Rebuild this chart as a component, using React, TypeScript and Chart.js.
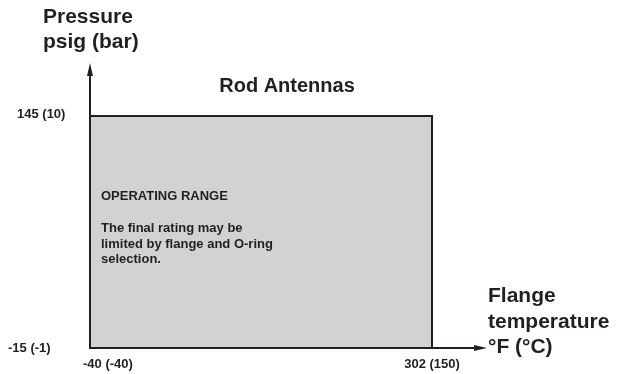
import React, { useEffect, useRef } from "react";
import { Chart, registerables } from "chart.js";

Chart.register(...registerables);

// Operating range corners (temperature °F, pressure psig)
const rangeTemps = [-40, -40, 302, 302];
const rangePressures = [-15, 145, 145, -15];

const xTickValues = [-40, 302];
const xTickLabels = ["-40 (-40)", "302 (150)"];
const yTickValues = [-15, 145];
const yTickLabels = ["-15 (-1)", "145 (10)"];

const titleText = "Rod Antennas";
const yAxisTitle = ["Pressure", "psig (bar)"];
const xAxisTitle = ["Flange", "temperature", "°F (°C)"];
const noteLines = [
  "OPERATING RANGE",
  "",
  "The final rating may be",
  "limited by flange and O-ring",
  "selection.",
];

const INK = "#231f20";
const FONT = "'Liberation Sans', Arial, sans-serif";

const decorPlugin = {
  id: "decor",
  afterDatasetsDraw(chart: any) {
    const { ctx, chartArea, scales } = chart;
    const xs = scales.x;
    const ys = scales.y;
    const x0 = xs.getPixelForValue(-40);
    const y0 = ys.getPixelForValue(-15);
    ctx.save();
    ctx.strokeStyle = INK;
    ctx.fillStyle = INK;
    ctx.lineWidth = 2;
    // y axis
    ctx.beginPath();
    ctx.moveTo(x0, y0 + 1);
    ctx.lineTo(x0, chartArea.top + 10);
    ctx.stroke();
    ctx.beginPath();
    ctx.moveTo(x0, chartArea.top);
    ctx.lineTo(x0 - 3, chartArea.top + 13);
    ctx.lineTo(x0 + 3, chartArea.top + 13);
    ctx.closePath();
    ctx.fill();
    // x axis
    ctx.beginPath();
    ctx.moveTo(x0 - 1, y0);
    ctx.lineTo(chartArea.right - 10, y0);
    ctx.stroke();
    ctx.beginPath();
    ctx.moveTo(chartArea.right, y0);
    ctx.lineTo(chartArea.right - 13, y0 - 3);
    ctx.lineTo(chartArea.right - 13, y0 + 3);
    ctx.closePath();
    ctx.fill();

    // tick labels
    ctx.font = `bold 13px ${FONT}`;
    ctx.textBaseline = "alphabetic";
    xTickValues.forEach((v, i) => {
      const px = xs.getPixelForValue(v);
      if (i === 0) {
        ctx.textAlign = "left";
        ctx.fillText(xTickLabels[i], px - 7, y0 + 20);
      } else {
        ctx.textAlign = "center";
        ctx.fillText(xTickLabels[i], px, y0 + 20);
      }
    });
    yTickValues.forEach((v, i) => {
      const py = ys.getPixelForValue(v);
      ctx.textAlign = "left";
      const lx = i === 0 ? 8 : 17;
      const dy = i === 0 ? 4 : 2;
      ctx.fillText(yTickLabels[i], lx, py + dy);
    });

    // note inside range
    const nx = x0 + 11;
    const nBase = [200, 0, 232, 248, 263];
    noteLines.forEach((t, i) => {
      if (!t) return;
      ctx.textAlign = "left";
      ctx.fillText(t, nx, nBase[i]);
    });

    // title
    ctx.font = `bold 20px ${FONT}`;
    ctx.textAlign = "center";
    ctx.fillText(titleText, 287, 92);

    // axis titles
    ctx.font = `bold 21px ${FONT}`;
    ctx.textAlign = "left";
    yAxisTitle.forEach((t, i) => ctx.fillText(t, 43, 23 + i * 24.5));
    xAxisTitle.forEach((t, i) => ctx.fillText(t, 488, 302 + i * 25.5));
    ctx.restore();
  },
};

export default function App() {
  const ref = useRef<HTMLCanvasElement | null>(null);
  useEffect(() => {
    if (!ref.current) return;
    const chart = new Chart(ref.current, {
      type: "line",
      data: {
        datasets: [
          {
            data: rangeTemps.map((t, i) => ({ x: t, y: rangePressures[i] })),
            borderColor: INK,
            borderWidth: 2,
            backgroundColor: "#d1d2d4",
            fill: "start",
            pointRadius: 0,
            tension: 0,
          },
        ],
      },
      options: {
        responsive: false,
        animation: false,
        events: [],
        layout: { padding: { left: 90, right: 134, top: 63, bottom: 26 } },
        plugins: {
          legend: { display: false },
          tooltip: { enabled: false },
          title: { display: false },
        },
        scales: {
          x: { type: "linear", display: false, min: -40, max: 357 },
          y: { type: "linear", display: false, min: -15, max: 181.5 },
        },
      },
      plugins: [decorPlugin],
    });
    return () => chart.destroy();
  }, []);
  return (
    <div style={{ position: "absolute", left: 0, top: 0, width: 621, height: 374, background: "#fff" }}>
      <canvas ref={ref} width={621} height={374} style={{ display: "block" }} />
    </div>
  );
}
